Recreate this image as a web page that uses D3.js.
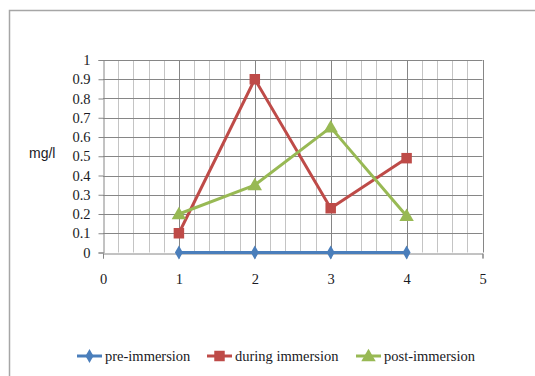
<!DOCTYPE html>
<html>
<head>
<meta charset="utf-8">
<script src="https://cdn.jsdelivr.net/npm/d3@7"></script>
<style>
  html, body { margin: 0; padding: 0; background: #fff; }
  svg { display: block; }
  .serif { font-family: "Liberation Serif", "Times New Roman", serif; }
</style>
</head>
<body>
<svg id="chart" width="535" height="376"></svg>
<script>
// Sampling points and measured concentrations (mg/l)
const xPoints = [1, 2, 3, 4];
const preImmersion = [0, 0, 0, 0];
const duringImmersion = [0.1, 0.9, 0.23, 0.49];
const postImmersion = [0.2, 0.35, 0.65, 0.19];
const seriesNames = ["pre-immersion", "during immersion", "post-immersion"];
const xTicks = [0, 1, 2, 3, 4, 5];
const yTicks = [0, 0.1, 0.2, 0.3, 0.4, 0.5, 0.6, 0.7, 0.8, 0.9, 1];

const colors = ["#4a7ebb", "#be4b48", "#98b954"];
const textColor = "#1a1a24";
const series = [
  { name: seriesNames[0], values: preImmersion, color: colors[0], marker: "diamond" },
  { name: seriesNames[1], values: duringImmersion, color: colors[1], marker: "square" },
  { name: seriesNames[2], values: postImmersion, color: colors[2], marker: "triangle" }
];

const svg = d3.select("#chart");
const W = 535, H = 376;

// Outer frame
svg.append("rect").attr("x", 9.5).attr("y", 10.5).attr("width", W).attr("height", H)
  .attr("fill", "none").attr("stroke", "#a6a6a6").attr("stroke-width", 1.5);

const x = d3.scaleLinear().domain([0, 5]).range([103, 482.5]);
const y = d3.scaleLinear().domain([0, 1]).range([252.5, 60]);

const g = svg.append("g");

// Minor vertical gridlines every 0.2
const minorX = d3.range(0, 5.001, 0.2).filter(v => Math.abs(v - Math.round(v)) > 1e-6);
g.selectAll(".vminor").data(minorX).enter().append("line")
  .attr("x1", d => Math.round(x(d)) + 0.5).attr("x2", d => Math.round(x(d)) + 0.5)
  .attr("y1", y(1)).attr("y2", y(0))
  .attr("stroke", "#c4c4c4").attr("stroke-width", 1);

// Major vertical gridlines at integers
g.selectAll(".vmajor").data(xTicks.slice(1)).enter().append("line")
  .attr("x1", d => Math.round(x(d)) + 0.5).attr("x2", d => Math.round(x(d)) + 0.5)
  .attr("y1", y(1)).attr("y2", y(0))
  .attr("stroke", "#868686").attr("stroke-width", 1);

// Horizontal gridlines
g.selectAll(".hgrid").data(yTicks.slice(1)).enter().append("line")
  .attr("x1", x(0)).attr("x2", x(5))
  .attr("y1", d => Math.round(y(d)) + 0.5).attr("y2", d => Math.round(y(d)) + 0.5)
  .attr("stroke", "#868686").attr("stroke-width", 1);

// Axes
const yAxis = d3.axisLeft(y).tickValues(yTicks).tickSize(5).tickPadding(8)
  .tickFormat(d => String(+d.toFixed(1)));
const yG = svg.append("g").attr("transform", `translate(${Math.round(x(0)) + 0.5},0)`).call(yAxis);
yG.attr("font-family", null).attr("font-size", null);
yG.select(".domain").attr("stroke", "#868686");
yG.selectAll(".tick line").attr("stroke", "#868686");
yG.selectAll(".tick text").attr("class", "serif")
  .style("font-size", "14.5px").attr("fill", textColor);

const xAxis = d3.axisBottom(x).tickValues(xTicks).tickSize(5).tickPadding(15).tickFormat(d3.format("d"));
const xG = svg.append("g").attr("transform", `translate(0,${Math.round(y(0)) + 0.5})`).call(xAxis);
xG.attr("font-family", null).attr("font-size", null);
xG.select(".domain").attr("stroke", "#868686");
xG.selectAll(".tick line").attr("stroke", "#868686");
xG.selectAll(".tick text").attr("class", "serif")
  .style("font-size", "14.5px").attr("fill", textColor);

// Y axis title
svg.append("text").attr("x", 29).attr("y", 158)
  .style("font-family", "'Liberation Sans', Arial, sans-serif").style("font-size", "14px")
  .attr("fill", textColor).text("mg/l");

// Marker shapes
function markerPath(type) {
  if (type === "diamond") return d3.symbol().type(d3.symbolDiamond).size(55)();
  if (type === "square") return d3.symbol().type(d3.symbolSquare).size(110)();
  return d3.symbol().type(d3.symbolTriangle).size(90)();
}

const line = d3.line().x(d => x(d[0])).y(d => y(d[1]));

series.forEach(s => {
  const pts = xPoints.map((xv, i) => [xv, s.values[i]]);
  svg.append("path").datum(pts).attr("d", line)
    .attr("fill", "none").attr("stroke", s.color).attr("stroke-width", 3)
    .attr("stroke-linejoin", "round");
  svg.selectAll(null).data(pts).enter().append("path")
    .attr("d", markerPath(s.marker))
    .attr("transform", d => `translate(${x(d[0])},${y(d[1]) + (s.marker === "triangle" ? 1 : 0)})`)
    .attr("fill", s.color);
});

// Legend
const legendX = [77, 207, 356];
const legend = svg.append("g");
series.forEach((s, i) => {
  const lx = legendX[i], ly = 356;
  legend.append("line").attr("x1", lx).attr("x2", lx + 25).attr("y1", ly).attr("y2", ly)
    .attr("stroke", s.color).attr("stroke-width", 3);
  legend.append("path").attr("d", markerPath(s.marker))
    .attr("transform", `translate(${lx + 12.5},${ly + (s.marker === "triangle" ? 1 : 0)})`)
    .attr("fill", s.color);
  legend.append("text").attr("class", "serif").attr("x", lx + 28).attr("y", ly + 4.5)
    .style("font-size", "14.5px").attr("fill", textColor).text(s.name);
});
</script>
</body>
</html>
